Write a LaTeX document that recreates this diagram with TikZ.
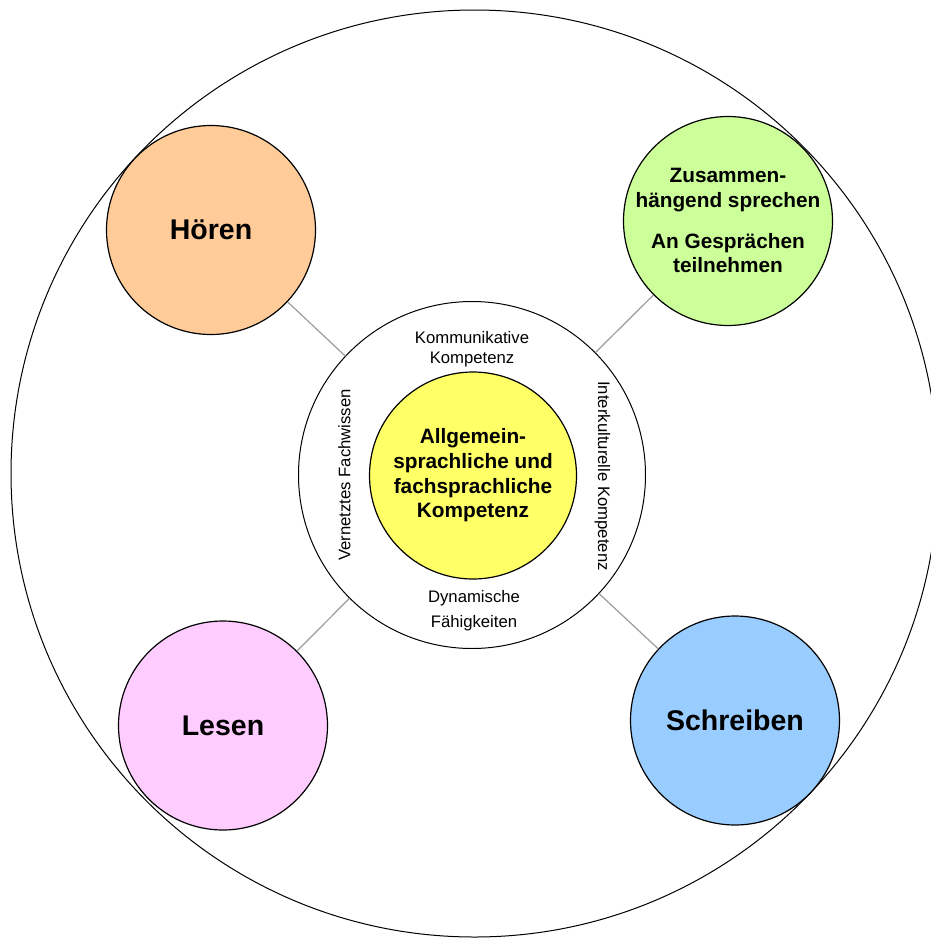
\documentclass[tikz,border=0pt]{standalone}
\usepackage{fontspec}
\setmainfont{Liberation Sans}
\usepackage{xcolor}
\definecolor{hoer}{RGB}{255, 204, 153}
\definecolor{sprech}{RGB}{204, 255, 153}
\definecolor{lese}{RGB}{255, 204, 255}
\definecolor{schreib}{RGB}{153, 204, 255}
\definecolor{kern}{RGB}{255, 255, 102}
\definecolor{verb}{RGB}{155, 155, 155}

\begin{document}
\begin{tikzpicture}[x=1pt, y=-1pt,
        kreis/.style={circle, draw, line width=1.2pt, inner sep=0pt, minimum size=209pt, align=center},
        gross/.style={font=\fontsize{28.5}{34}\selectfont\bfseries},
        mittel/.style={font=\fontsize{20.8}{24.6}\selectfont\bfseries, align=center},
        klein/.style={font=\fontsize{16.7}{20}\selectfont, inner sep=0pt, align=center}]
            \clip (0, 0) rectangle (931, 938);
            \draw[line width=1pt] (474.5, 473.5) circle (463.5pt);
            \node[circle, draw, line width=1pt, inner sep=0pt, minimum size=347pt](mitte) at (472, 475) {};
            \node[kreis, fill=kern, minimum size=207pt, mittel](kern) at (473, 475.5) {Allgemein-\\sprachliche und\\fachsprachliche\\Kompetenz};
            \node[kreis, fill=hoer, gross](hoeren) at (211, 230) {Hören};
            \node[kreis, fill=sprech](sprechen) at (728, 221) {};
            \node[mittel](sprechtext) at (728, 220.5) {Zusammen-\\hängend sprechen\\[16.5pt]An Gesprächen\\teilnehmen};
            \node[kreis, fill=lese, gross](lesen) at (223, 725.5) {Lesen};
            \node[kreis, fill=schreib, gross](schreiben) at (735, 720.5) {Schreiben};
            \node[klein](kommunikativ) at (472, 349) {Kommunikative\\Kompetenz};
            \node[klein, font=\fontsize{16.7}{25}\selectfont](dynamisch) at (474, 611) {Dynamische\\Fähigkeiten};
            \node[klein, rotate=90](fachwissen) at (344.5, 475) {Vernetztes Fachwissen};
            \node[klein, rotate=-90](interkulturell) at (602.5, 476) {Interkulturelle Kompetenz};
            \draw[color=verb, line width=1.2pt] (hoeren) -- (mitte);
            \draw[color=verb, line width=1.2pt] (sprechen) -- (mitte);
            \draw[color=verb, line width=1.2pt] (lesen) -- (mitte);
            \draw[color=verb, line width=1.2pt] (schreiben) -- (mitte);
        \end{tikzpicture}
\end{document}
